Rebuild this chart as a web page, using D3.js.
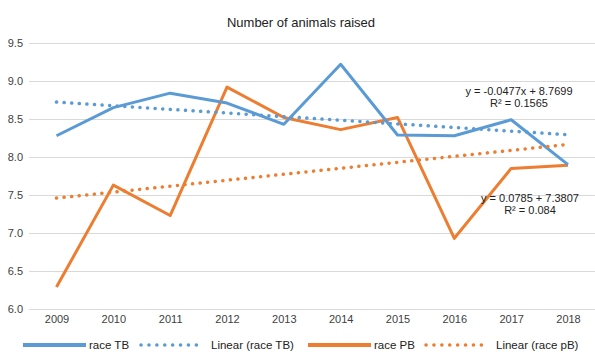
<!DOCTYPE html>
<html lang="en">
<head>
	<meta charset="utf-8"/>
	<title>Number of animals raised</title>
	<script src="https://d3js.org/d3.v7.min.js"></script>
	<style>
	  body { margin: 0; background: #fff; }
	  svg { font-family: "Liberation Sans", Arial, sans-serif; }
	  .grid line { stroke: #d9d9d9; stroke-width: 1.2px; }
	  .grid .domain { display: none; }
	  .axis text { fill: #404040; font-size: 11px; }
	  .axis .domain, .axis line { display: none; }
	</style>
</head>
<body>
<svg width="595" height="352" id="chart"></svg>
<script>
// data
var years = ["2009","2010","2011","2012","2013","2014","2015","2016","2017","2018"];
var raceTB = [8.28, 8.65, 8.84, 8.71, 8.43, 9.22, 8.29, 8.28, 8.49, 7.90];
var racePB = [6.29, 7.63, 7.23, 8.92, 8.52, 8.36, 8.52, 6.93, 7.85, 7.89];
// trendline coefficients as printed on the chart (x = 1..10)
var trendTB = {slope: -0.0477, intercept: 8.7699};
var trendPB = {slope: 0.0785, intercept: 7.3807};
var yTicks = [6.0, 6.5, 7.0, 7.5, 8.0, 8.5, 9.0, 9.5];

var blue = "#5b9bd5", orange = "#ed7d31";

var svg = d3.select("#chart");
var plotLeft = 29, plotRight = 595, plotTop = 43, plotBottom = 309;

var x = d3.scalePoint()
	.domain(years)
	.range([56.5, 568]);
var y = d3.scaleLinear()
	.domain([6, 9.5])
	.range([plotBottom, plotTop]);

// title
svg.append("text")
	.attr("x", 301)
	.attr("y", 27)
	.attr("text-anchor", "middle")
	.attr("font-size", "13px")
	.attr("fill", "#222")
	.text("Number of animals raised");

// gridlines
svg.append("g")
	.attr("class", "grid")
	.attr("transform", "translate(" + plotLeft + ",0)")
	.call(d3.axisLeft(y).tickValues(yTicks).tickSize(-(plotRight - plotLeft)).tickFormat(""));

// y axis labels
svg.append("g")
	.attr("class", "axis")
	.attr("transform", "translate(" + (plotLeft - 3) + ",0)")
	.call(d3.axisLeft(y).tickValues(yTicks).tickSize(0).tickFormat(d3.format(".1f")));

// x axis labels
svg.append("g")
	.attr("class", "axis")
	.attr("transform", "translate(0," + (plotBottom + 3) + ")")
	.call(d3.axisBottom(x).tickSize(0));

var line = d3.line()
	.x(function(d, i) { return x(years[i]); })
	.y(function(d) { return y(d); });

function trendValues(t) {
	return [0, years.length - 1].map(function(i) {
		return {i: i, v: t.slope * (i + 1) + t.intercept};
	});
}
var trendLine = d3.line()
	.x(function(d) { return x(years[d.i]); })
	.y(function(d) { return y(d.v); });

// series lines
svg.append("path")
	.datum(racePB)
	.attr("fill", "none")
	.attr("stroke", orange)
	.attr("stroke-width", 3)
	.attr("stroke-linejoin", "round")
	.attr("d", line);
svg.append("path")
	.datum(raceTB)
	.attr("fill", "none")
	.attr("stroke", blue)
	.attr("stroke-width", 3)
	.attr("stroke-linejoin", "round")
	.attr("d", line);

// dotted trendlines
[[trendTB, blue], [trendPB, orange]].forEach(function(t) {
	svg.append("path")
		.datum(trendValues(t[0]))
		.attr("fill", "none")
		.attr("stroke", t[1])
		.attr("stroke-width", 3.5)
		.attr("stroke-linecap", "round")
		.attr("stroke-dasharray", "0.1 7.5")
		.attr("d", trendLine);
});

// equation labels
var eqs = [
	{x: 519, y: 95, lines: ["y = -0.0477x + 8.7699", "R\u00b2 = 0.1565"]},
	{x: 530, y: 202, lines: ["y = 0.0785 + 7.3807", "R\u00b2 = 0.084"]}
];
eqs.forEach(function(e) {
	var t = svg.append("text")
		.attr("text-anchor", "middle")
		.attr("font-size", "11px")
		.attr("fill", "#222");
	e.lines.forEach(function(s, i) {
		t.append("tspan")
			.attr("x", e.x)
			.attr("y", e.y + i * 12)
			.text(s);
	});
});

// legend
var legendItems = [
	{label: "race TB", color: blue, dotted: false, x: 23},
	{label: "Linear (race TB)", color: blue, dotted: true, x: 141},
	{label: "race PB", color: orange, dotted: false, x: 308},
	{label: "Linear (race pB)", color: orange, dotted: true, x: 426}
];
var legend = svg.append("g")
	.selectAll("g")
	.data(legendItems)
	.enter().append("g")
	.attr("transform", function(d) { return "translate(" + d.x + ",345)"; });
legend.append("line")
	.attr("x1", 0)
	.attr("x2", 63)
	.attr("stroke", function(d) { return d.color; })
	.attr("stroke-width", function(d) { return d.dotted ? 3.5 : 4; })
	.attr("stroke-linecap", function(d) { return d.dotted ? "round" : "butt"; })
	.attr("stroke-dasharray", function(d) { return d.dotted ? "0.1 7.8" : null; });
legend.append("text")
	.attr("x", function(d) { return d.dotted ? 70 : 66; })
	.attr("y", 4)
	.attr("font-size", "11.5px")
	.attr("fill", "#222")
	.text(function(d) { return d.label; });
</script>
</body>
</html>
